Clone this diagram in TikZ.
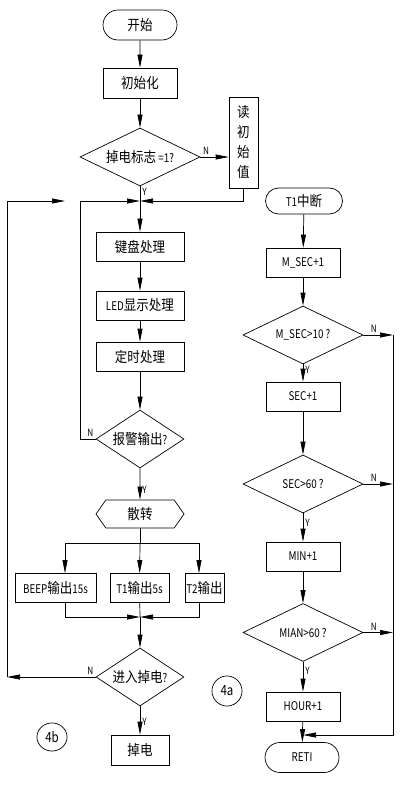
\documentclass[tikz,border=0pt]{standalone}
\usepackage{fontspec}
\setmainfont{Noto Sans CJK SC}[FakeStretch=0.82]
\newfontfamily\cjk{Noto Sans CJK SC}[FakeStretch=0.87,Scale=1.2]
\newcommand{\cn}[1]{{\cjk #1}}
\usetikzlibrary{positioning,shapes.geometric,shapes.misc,shapes.symbols,arrows.meta}

\begin{document}
\begin{tikzpicture}[x=1pt,y=-1pt,line width=0.7pt,
  font=\fontsize{12}{14}\selectfont,
  box/.style={draw,rectangle,inner sep=0pt,minimum width=74pt,minimum height=29pt},
  term/.style={draw,rounded rectangle,inner sep=0pt,minimum width=74pt,minimum height=30pt},
  cond/.style={draw,diamond,aspect=2,inner sep=0pt,minimum width=120pt,minimum height=58pt},
  hexa/.style={draw,signal,signal to=west and east,signal pointer angle=110,inner sep=0pt,minimum width=88pt,minimum height=28pt},
  numtag/.style={inner sep=0pt,font=\fontsize{14}{14}\selectfont},
  yn/.style={font=\fontsize{10}{10}\selectfont,inner sep=2pt},
  flow/.style={-{Triangle[length=13pt,width=5pt]}}]
  \useasboundingbox (0,0) rectangle (402,786);

  % main loop (4b)
  \node[term] (start) at (140,25) {\cn{开始}};
  \node[box,minimum height=30pt] (init) at (140,83) {\cn{初始化}};
  \node[cond] (pd) at (140,157) {\cn{掉电标志} =1?};
  \node[box,minimum width=29pt,minimum height=91pt,align=center,
        font=\fontsize{12}{20}\selectfont] (rd) at (243.5,142.5) {\cn{读}\\\cn{初}\\\cn{始}\\\cn{值}};
  \node[box,minimum width=88pt] (kb) at (140,246.5) {\cn{键盘处理}};
  \node[box,minimum width=88pt] (led) at (140,305.5) {LED\cn{显示处理}};
  \node[box,minimum width=88pt] (tm) at (140,356.5) {\cn{定时处理}};
  \node[cond,minimum width=88pt] (alarm) at (140,439) {\cn{报警输出}?};
  \node[hexa] (sz) at (140,514) {\cn{散转}};
  \node[box,minimum width=81pt] (beep) at (55.5,588) {BEEP\cn{输出}15s};
  \node[box,minimum width=59pt] (t1o) at (139.5,588) {T1\cn{输出}5s};
  \node[box,minimum width=39pt] (t2o) at (204.5,588) {T2\cn{输出}};
  \node[cond,minimum width=88pt] (pw) at (140,677) {\cn{进入掉电}?};
  \node[box,minimum width=58pt,minimum height=30pt] (off) at (140,750) {\cn{掉电}};

  % timer interrupt (4a)
  \node[term,minimum width=77pt,minimum height=26pt] (t1) at (304,201) {T1\cn{中断}};
  \node[box] (ms) at (303,262.5) {M\_SEC+1};
  \node[cond] (q1) at (303,335) {M\_SEC>10 ?};
  \node[box] (sec) at (303,396.5) {SEC+1};
  \node[cond] (q2) at (303,484) {SEC>60 ?};
  \node[box] (min) at (303,556.5) {MIN+1};
  \node[cond] (q3) at (303,632.5) {MIAN>60 ?};
  \node[box] (hr) at (303,706.5) {HOUR+1};
  \node[term] (reti) at (302,757.5) {RETI};

  % part tags
  \node[numtag] (ta) at (227,691) {4a};
  \node[numtag] (tb) at (52,737) {4b};
  \draw[shift={(227,691)}] plot[domain=0:360,samples=49] ({15*cos(\x)},{15*sin(\x)}) -- cycle;
  \draw[shift={(52,737)}] plot[domain=0:360,samples=49] ({15*cos(\x)},{14*sin(\x)}) -- cycle;

  % junctions
  \coordinate (j1) at (140,201);
  \coordinate (c1) at (80,201);
  \coordinate (c2) at (7,677);
  \coordinate (c3) at (65,201);
  \coordinate (b0) at (140,543);
  \coordinate (bl) at (65,543);
  \coordinate (br) at (199,543);
  \coordinate (m0) at (140,617);
  \coordinate (r1) at (393,335);
  \coordinate (r2) at (393,735);
  \coordinate (m1) at (303,735);

  % straight arrows
  \foreach \a/\b in {start/init,init/pd,j1/kb,kb/led,led/tm,tm/alarm,
                     b0/t1o,m0/pw,t1/ms,ms/q1,sec/q2,min/q3,hr/reti}
    \draw[flow] (\a) -- (\b);
  % yes branches
  \foreach \a/\b/\p in {alarm/sz/0.7,pw/off/0.55,q1/sec/0.3,q2/min/0.35,q3/hr/0.3}
    \draw[flow] (\a) -- node[right,yn,pos=\p] {Y} (\b);
  \draw (pd) -- node[right,yn,pos=0.35] {Y} (j1);

  \draw[flow] (pd.east) -- node[above,yn,pos=0.2] {N} (pd.east -| rd.west);
  \draw[flow] (rd.south) |- (j1);
  \draw[flow] (alarm.west) -| (c1) -- (j1);
  \node[yn,above left] at (alarm.west) {N};
  \draw (sz) -- (b0);
  \draw (bl) -- (br);
  \draw[flow] (bl) -- (bl |- beep.north);
  \draw[flow] (br) -- (br |- t2o.north);
  \draw[flow] (bl |- beep.south) |- (m0);
  \draw[flow] (br |- t2o.south) |- (m0);
  \draw (t1o) -- (m0);
  \draw[flow] (pw.west) -- (c2);
  \node[yn,above left] at (pw.west) {N};
  \draw[flow] (c2) |- (c3);

  \foreach \q in {q1,q2,q3}
    \draw[flow] (\q.east) -- node[above,yn,pos=0.35] {N} (\q.east -| r1);
  \draw[flow] (r1) -- (r2) -- (m1);
\end{tikzpicture}
\end{document}
